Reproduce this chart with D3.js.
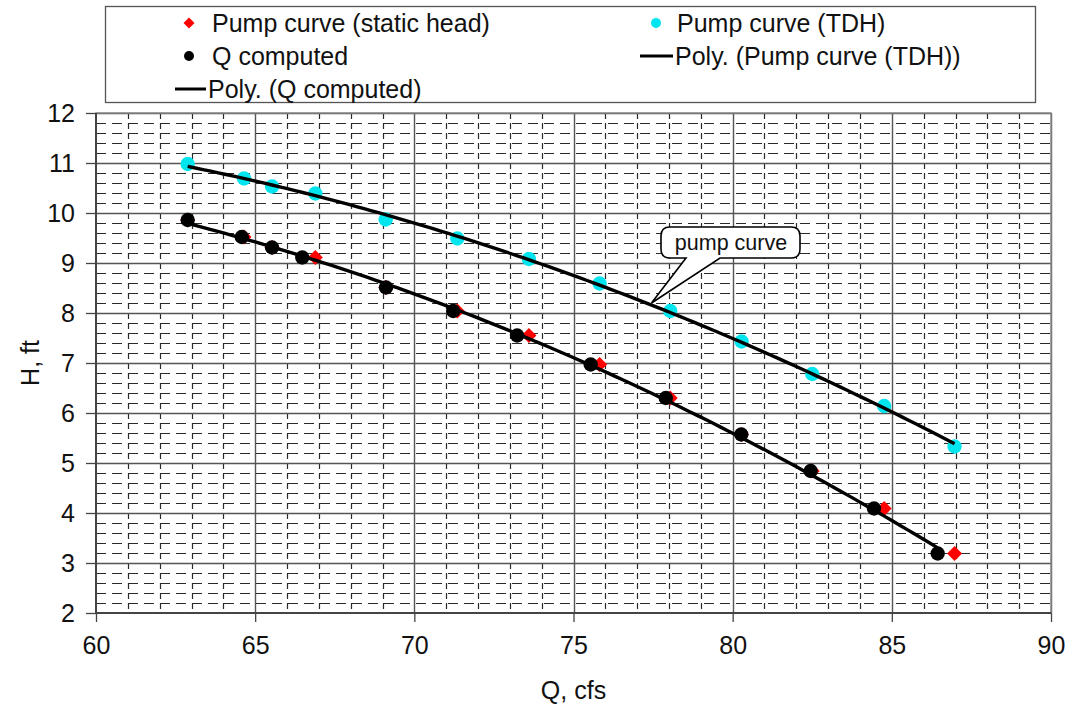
<!DOCTYPE html>
<html><head><meta charset="utf-8">
<script src="https://cdn.jsdelivr.net/npm/d3@7"></script>
<style>body{margin:0;background:#fff}svg{display:block}text{font-family:"Liberation Sans",Arial,sans-serif;fill:#111}</style>
</head><body><svg id="c" width="1068" height="708"></svg>
<script>
// ---- data ----
const qTDH   = [62.88, 64.65, 65.53, 66.89, 69.10, 71.35, 73.60, 75.82, 78.04, 80.28, 82.50, 84.76, 86.97];
const hTDH   = [10.98, 10.69, 10.53, 10.39, 9.87, 9.49, 9.08, 8.59, 8.04, 7.43, 6.78, 6.14, 5.33];
const qStatic = qTDH;
const hStatic = [9.86, 9.52, 9.31, 9.11, 8.51, 8.04, 7.55, 6.97, 6.30, 5.57, 4.84, 4.09, 3.19];
const qComp  = [62.88, 64.58, 65.53, 66.48, 69.11, 71.22, 73.23, 75.54, 77.90, 80.27, 82.45, 84.44, 86.44];
const hComp  = hStatic;
const xTicks = [60, 65, 70, 75, 80, 85, 90];
const yTicks = [2, 3, 4, 5, 6, 7, 8, 9, 10, 11, 12];
const legendLabels = ["Pump curve (static head)", "Pump curve (TDH)", "Q computed", "Poly. (Pump curve (TDH))", "Poly. (Q computed)"];
const calloutText = "pump curve";
const calloutTip = [77.45, 8.2];

// ---- layout ----
const svg = d3.select("#c");
const L = 96, R = 1051, T = 113, B = 613;
const x = d3.scaleLinear().domain([60, 90]).range([L, R]);
const y = d3.scaleLinear().domain([2, 12]).range([B, T]);
const FONT = 25;

// minor grid
const g = svg.append("g");
const minorY = d3.range(2.2, 12, 0.2).filter(v => Math.abs(v - Math.round(v)) > 0.05);
g.selectAll(".hy").data(minorY).join("line")
  .attr("x1", L).attr("x2", R).attr("y1", d => Math.round(y(d)) + 0.5).attr("y2", d => Math.round(y(d)) + 0.5)
  .attr("stroke", "#2a2a2a").attr("stroke-width", 1.2).attr("stroke-dasharray", "10,6");
const minorX = d3.range(61, 90, 1).filter(v => v % 5 !== 0);
g.selectAll(".vx").data(minorX).join("line")
  .attr("y1", T).attr("y2", B).attr("x1", d => Math.round(x(d)) + 0.5).attr("x2", d => Math.round(x(d)) + 0.5)
  .attr("stroke", "#2a2a2a").attr("stroke-width", 1.2).attr("stroke-dasharray", "6,4");
// major grid
g.selectAll(".my").data(yTicks.slice(1)).join("line")
  .attr("x1", L).attr("x2", R).attr("y1", d => Math.round(y(d)) + 0.5).attr("y2", d => Math.round(y(d)) + 0.5)
  .attr("stroke", "#555").attr("stroke-width", 1.4);
g.selectAll(".mx").data(xTicks.slice(1)).join("line")
  .attr("y1", T).attr("y2", B).attr("x1", d => Math.round(x(d)) + 0.5).attr("x2", d => Math.round(x(d)) + 0.5)
  .attr("stroke", "#555").attr("stroke-width", 1.4);
// plot border
svg.append("rect").attr("x", L).attr("y", T).attr("width", R - L).attr("height", B - T)
  .attr("fill", "none").attr("stroke", "#888").attr("stroke-width", 1.4);

// axes
const xa = svg.append("g").attr("transform", `translate(0,${B})`)
  .call(d3.axisBottom(x).tickValues(xTicks).tickSize(9).tickPadding(14));
const ya = svg.append("g").attr("transform", `translate(${L},0)`)
  .call(d3.axisLeft(y).tickValues(yTicks).tickSize(10).tickPadding(11));
[xa, ya].forEach(a => {
  a.select(".domain").attr("stroke", "#444").attr("stroke-width", 2);
  a.selectAll(".tick line").attr("stroke", "#444").attr("stroke-width", 1.3);
  a.selectAll(".tick text").attr("font-size", FONT).attr("font-family", "Liberation Sans, Arial, sans-serif").attr("fill", "#111");
});
ya.select(".domain").attr("d", `M0,${T}V${B}`);
xa.select(".domain").attr("d", `M${L},0H${R}`);

// axis titles
svg.append("text").attr("x", (L + R) / 2).attr("y", 699).attr("text-anchor", "middle").attr("font-size", FONT).text("Q, cfs");
svg.append("text").attr("transform", `translate(39,${(T + B) / 2}) rotate(-90)`).attr("text-anchor", "middle").attr("font-size", FONT).text("H, ft");

// polynomial (order 2) least-squares fit
function polyFit(xs, ys) {
  const mx = d3.mean(xs);
  let S = [0,0,0,0,0], Ty = [0,0,0];
  xs.forEach((xv, i) => { const t = xv - mx; let p = 1;
    for (let k = 0; k < 5; k++) { S[k] += p; if (k < 3) Ty[k] += p * ys[i]; p *= t; } });
  const A = [[S[0],S[1],S[2],Ty[0]],[S[1],S[2],S[3],Ty[1]],[S[2],S[3],S[4],Ty[2]]];
  for (let i = 0; i < 3; i++) { for (let j = i + 1; j < 3; j++) { const f = A[j][i] / A[i][i];
    for (let k = i; k < 4; k++) A[j][k] -= f * A[i][k]; } }
  const c = [0,0,0];
  for (let i = 2; i >= 0; i--) { let s = A[i][3]; for (let k = i + 1; k < 3; k++) s -= A[i][k] * c[k]; c[i] = s / A[i][i]; }
  return xv => { const t = xv - mx; return c[0] + c[1] * t + c[2] * t * t; };
}
function curvePts(xs, ys) {
  const f = polyFit(xs, ys), lo = d3.min(xs), hi = d3.max(xs);
  return d3.range(0, 101).map(i => { const xv = lo + (hi - lo) * i / 100; return [xv, f(xv)]; });
}
const line = d3.line().x(d => x(d[0])).y(d => y(d[1]));

// markers
const diamond = (cx, cy, r) => `M${cx},${cy - r}L${cx + r},${cy}L${cx},${cy + r}L${cx - r},${cy}Z`;
svg.append("g").selectAll("path").data(d3.zip(qStatic, hStatic)).join("path")
  .attr("d", d => diamond(x(d[0]), y(d[1]), 7.5)).attr("fill", "#ff0000");
svg.append("g").selectAll("circle").data(d3.zip(qTDH, hTDH)).join("circle")
  .attr("cx", d => x(d[0])).attr("cy", d => y(d[1])).attr("r", 7.2).attr("fill", "#00e5ee");
svg.append("g").selectAll("circle").data(d3.zip(qComp, hComp)).join("circle")
  .attr("cx", d => x(d[0])).attr("cy", d => y(d[1])).attr("r", 7.2).attr("fill", "#000");

// trendlines
svg.append("path").attr("d", line(curvePts(qTDH, hTDH))).attr("fill", "none").attr("stroke", "#000").attr("stroke-width", 3.4);
svg.append("path").attr("d", line(curvePts(qComp, hComp))).attr("fill", "none").attr("stroke", "#000").attr("stroke-width", 3.4);

// callout
const tx = x(calloutTip[0]), ty = y(calloutTip[1]);
const bx0 = 661, bx1 = 800, by0 = 227, by1 = 258, rr = 9;
const cp = `M${bx0 + rr},${by0}H${bx1 - rr}Q${bx1},${by0} ${bx1},${by0 + rr}V${by1 - rr}Q${bx1},${by1} ${bx1 - rr},${by1}` +
  `H720L${tx},${ty}L686,${by1}H${bx0 + rr}Q${bx0},${by1} ${bx0},${by1 - rr}V${by0 + rr}Q${bx0},${by0} ${bx0 + rr},${by0}Z`;
svg.append("path").attr("d", cp).attr("fill", "#fff").attr("stroke", "#000").attr("stroke-width", 1.6);
svg.append("text").attr("x", 731).attr("y", 250).attr("text-anchor", "middle").attr("font-size", 21.5).text(calloutText);

// legend
svg.append("rect").attr("x", 105.5).attr("y", 6.5).attr("width", 930).attr("height", 96)
  .attr("fill", "#fff").attr("stroke", "#555").attr("stroke-width", 1.3);
const lg = svg.append("g").attr("font-size", FONT);
const rows = [23, 56, 89];
lg.append("path").attr("d", diamond(189, rows[0], 5.5)).attr("fill", "#ff0000");
lg.append("text").attr("x", 212).attr("y", rows[0]).attr("dy", "0.35em").text(legendLabels[0]);
lg.append("circle").attr("cx", 656).attr("cy", rows[0]).attr("r", 5).attr("fill", "#00e5ee");
lg.append("text").attr("x", 677).attr("y", rows[0]).attr("dy", "0.35em").text(legendLabels[1]);
lg.append("circle").attr("cx", 189).attr("cy", rows[1]).attr("r", 5).attr("fill", "#000");
lg.append("text").attr("x", 212).attr("y", rows[1]).attr("dy", "0.35em").text(legendLabels[2]);
lg.append("line").attr("x1", 640).attr("x2", 673).attr("y1", rows[1]).attr("y2", rows[1]).attr("stroke", "#000").attr("stroke-width", 3);
lg.append("text").attr("x", 675).attr("y", rows[1]).attr("dy", "0.35em").text(legendLabels[3]);
lg.append("line").attr("x1", 175).attr("x2", 206).attr("y1", rows[2]).attr("y2", rows[2]).attr("stroke", "#000").attr("stroke-width", 3);
lg.append("text").attr("x", 208).attr("y", rows[2]).attr("dy", "0.35em").text(legendLabels[4]);
</script></body></html>
